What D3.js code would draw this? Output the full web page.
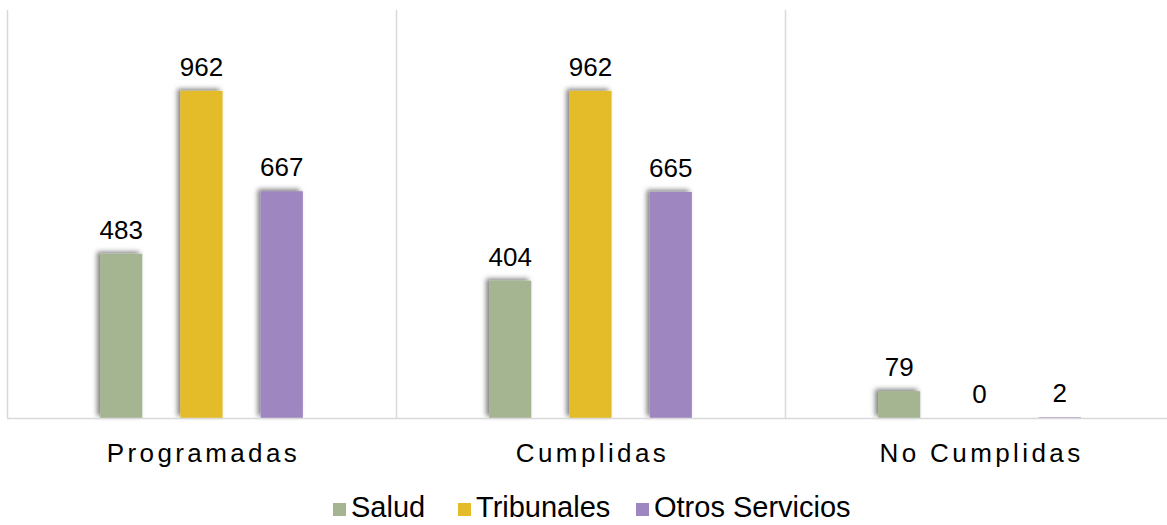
<!DOCTYPE html>
<html>
<head>
<meta charset="utf-8">
<script src="https://cdn.jsdelivr.net/npm/d3@7"></script>
<style>
  body { margin: 0; background: #fff; }
  svg { font-family: "Liberation Sans", Arial, sans-serif; }
</style>
</head>
<body>
<svg></svg>
<script>
var categories = ["Programadas", "Cumplidas", "No Cumplidas"];
var seriesNames = ["Salud", "Tribunales", "Otros Servicios"];
var salud = [483, 404, 79];
var tribunales = [962, 962, 0];
var otros = [667, 665, 2];
var colors = ["#a5b592", "#e4bc2b", "#9e86c0"];

var width = 1167,
  height = 525,
  margin = { top: 10, right: -7, bottom: 107, left: 7 };

var svg = d3.select("svg").attr("width", width).attr("height", height);

var defs = svg.append("defs");
var f = defs.append("filter").attr("id", "shadow")
  .attr("x", "-30%").attr("y", "-30%").attr("width", "160%").attr("height", "160%");
f.append("feDropShadow")
  .attr("dx", -3).attr("dy", -2).attr("stdDeviation", 2.4)
  .attr("flood-color", "#000").attr("flood-opacity", 0.5);

var series = [salud, tribunales, otros];
var data = [];
categories.forEach(function(c, i) {
  series.forEach(function(s, j) {
    data.push({ cat: c, name: seriesNames[j], value: s[i], j: j });
  });
});

var x0 = d3.scaleBand()
  .domain(categories)
  .range([margin.left, width - margin.right])
  .paddingInner(0).paddingOuter(0);

var x1 = d3.scaleBand()
  .domain(seriesNames)
  .range([0, x0.bandwidth()])
  .paddingInner(0.475).paddingOuter(1.16);

var y = d3.scaleLinear()
  .domain([0, 1200])
  .range([height - margin.bottom, margin.top]);

var base = y(0);

// category separators
var g = svg.append("g");
g.selectAll("line.sep")
  .data(categories)
  .enter().append("line")
  .attr("class", "sep")
  .attr("x1", function(d) { return x0(d) + 0.5; })
  .attr("x2", function(d) { return x0(d) + 0.5; })
  .attr("y1", margin.top)
  .attr("y2", base)
  .attr("stroke", "#d9d9d9")
  .attr("stroke-width", 1.5);

// bars
g.selectAll("rect.bar")
  .data(data)
  .enter().append("rect")
  .attr("class", "bar")
  .attr("x", function(d) { return x0(d.cat) + x1(d.name); })
  .attr("y", function(d) { return y(d.value); })
  .attr("width", x1.bandwidth())
  .attr("height", function(d) { return base - y(d.value); })
  .attr("fill", function(d) { return colors[d.j]; })
  .attr("filter", "url(#shadow)");

// axis line
g.append("line")
  .attr("x1", margin.left)
  .attr("x2", width)
  .attr("y1", base + 0.5)
  .attr("y2", base + 0.5)
  .attr("stroke", "#d9d9d9")
  .attr("stroke-width", 1.5);

// value labels
g.selectAll("text.val")
  .data(data)
  .enter().append("text")
  .attr("class", "val")
  .attr("x", function(d) { return x0(d.cat) + x1(d.name) + x1.bandwidth() / 2; })
  .attr("y", function(d) { return y(d.value) - 15; })
  .attr("text-anchor", "middle")
  .attr("font-size", 26)
  .attr("fill", "#000")
  .text(function(d) { return d.value; });

// category labels
g.selectAll("text.cat")
  .data(categories)
  .enter().append("text")
  .attr("class", "cat")
  .attr("x", function(d) { return x0(d) + x0.bandwidth() / 2 + 2; })
  .attr("y", 462)
  .attr("text-anchor", "middle")
  .attr("font-size", 26)
  .attr("letter-spacing", 3.4)
  .attr("fill", "#000")
  .text(function(d) { return d; });

// legend
var legendX = [333, 458, 636];
var lg = svg.append("g").attr("class", "legend");
var item = lg.selectAll("g")
  .data(seriesNames)
  .enter().append("g")
  .attr("transform", function(d, i) { return "translate(" + legendX[i] + ",517)"; });
item.append("rect")
  .attr("x", 0).attr("y", -14)
  .attr("width", 13).attr("height", 13)
  .attr("fill", function(d, i) { return colors[i]; });
item.append("text")
  .attr("x", 18).attr("y", 0)
  .attr("font-size", 29)
  .attr("fill", "#000")
  .text(function(d) { return d; });
</script>
</body>
</html>
